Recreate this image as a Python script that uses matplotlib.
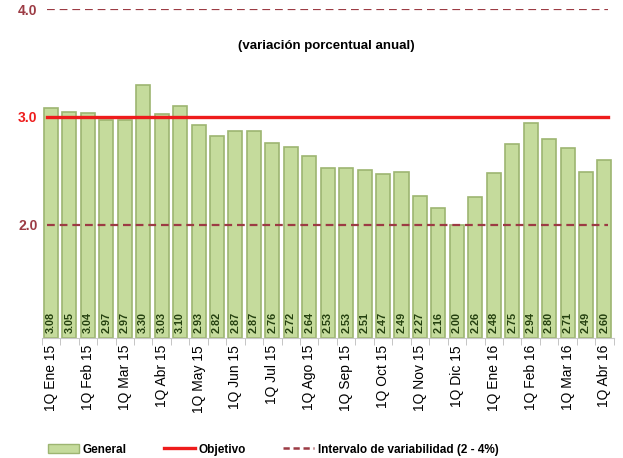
import matplotlib.pyplot as plt
from matplotlib.lines import Line2D
from matplotlib.patches import Patch

months = ["Ene 15", "Feb 15", "Mar 15", "Abr 15", "May 15", "Jun 15", "Jul 15", "Ago 15",
          "Sep 15", "Oct 15", "Nov 15", "Dic 15", "Ene 16", "Feb 16", "Mar 16", "Abr 16"]
general = [3.08, 3.05, 3.04, 2.97, 2.97, 3.30, 3.03, 3.10, 2.93, 2.82, 2.87, 2.87, 2.76, 2.72,
           2.64, 2.53, 2.53, 2.51, 2.47, 2.49, 2.27, 2.16, 2.00, 2.26, 2.48, 2.75, 2.94, 2.80,
           2.71, 2.49, 2.60]
objetivo = 3.0
intervalo = [2.0, 4.0]

GREEN = "#c5db9c"
GREEN_EDGE = "#9db571"
RED = "#ee1c1c"
DRED = "#9c3b44"
FONT = "Liberation Sans"

fig = plt.figure(figsize=(6.23, 4.58), dpi=100)
ax = fig.add_axes([0.067, 0.262, 0.918, 0.718])

x = list(range(len(general)))
ax.bar(x, [v - 0.95 for v in general], bottom=0.95, width=0.76, color=GREEN,
       edgecolor=GREEN_EDGE, linewidth=1.2, zorder=2)
for xi, v in zip(x, general):
    ax.text(xi, 1.0, f"{v:.2f}", rotation=90, ha="center", va="bottom", fontsize=7.8,
            fontweight="bold", color="#24400f", family=FONT, zorder=4)

ax.axhline(objetivo, color=RED, lw=2.4, zorder=3, xmin=0.01, xmax=0.99)
for lvl in intervalo:
    ax.axhline(lvl, color=DRED, lw=1.6, ls=(0, (3.5, 2.2)), zorder=3, xmin=0.01, xmax=0.99)

ax.set_xlim(-0.5, len(general) - 0.5)
ax.set_ylim(0.95, 4.0)
ax.set_yticks([2.0, 3.0, 4.0])
ax.set_yticklabels(["2.0", "3.0", "4.0"], fontsize=10, fontweight="bold", family=FONT)
for lbl, c in zip(ax.get_yticklabels(), [DRED, RED, DRED]):
    lbl.set_color(c)
ax.tick_params(axis="y", length=0, pad=3)

ax.set_xticks(x[::2])
ax.set_xticklabels([f"1Q {m}" for m in months], rotation=90, fontsize=10, family=FONT)
ax.set_xticks([i - 0.5 for i in range(len(general) + 1)], minor=True)
ax.tick_params(axis="x", which="major", length=0, pad=5)
ax.tick_params(axis="x", which="minor", length=5, color="#bbbbbb")

for s in ["top", "right", "left"]:
    ax.spines[s].set_visible(False)
ax.spines["bottom"].set_color("#c8c8c8")

fig.text(0.523, 0.9, "(variación porcentual anual)", ha="center", va="center", fontsize=9.5,
         fontweight="bold", family=FONT)

handles = [Patch(facecolor=GREEN, edgecolor=GREEN_EDGE),
           Line2D([], [], color=RED, lw=2.4),
           Line2D([], [], color=DRED, lw=1.8, ls=(0, (2.5, 1.5)))]
fig.legend(handles, ["General", "Objetivo", "Intervalo de variabilidad (2 - 4%)"],
           loc="lower left", bbox_to_anchor=(0.06, -0.018), ncol=3, frameon=False,
           prop={"family": FONT, "size": 8.5, "weight": "bold"}, handlelength=2.6,
           handletextpad=0.3, columnspacing=3.2)

fig.savefig("out.png", dpi=100)
